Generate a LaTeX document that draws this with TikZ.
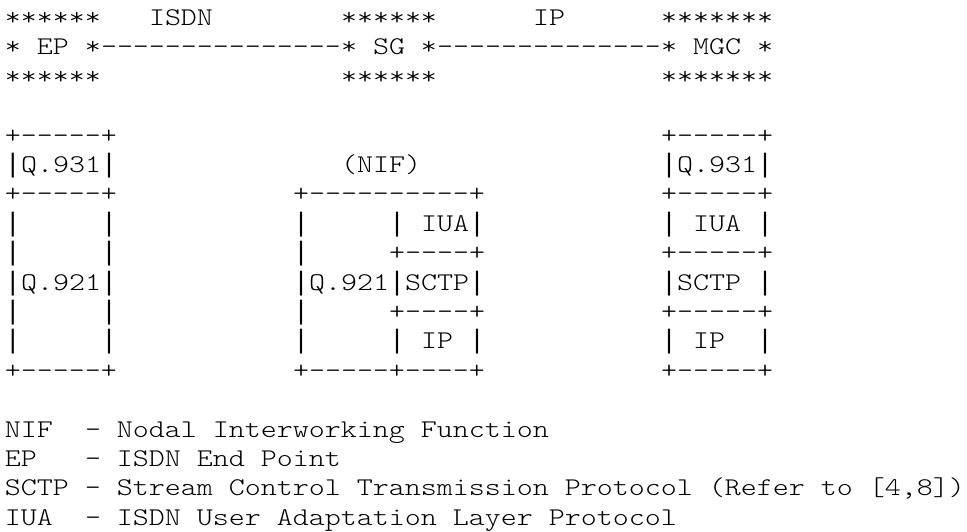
\documentclass[tikz,border=0pt]{standalone}
\usepackage{fontspec}
\newfontfamily\courlike{lmmonolt10-regular.otf}[FakeStretch=1.1951]
\newfontfamily\barfont{Liberation Mono}
\newcommand\vb{{\barfont\fontsize{26.67pt}{29.4pt}\selectfont|}}
\tikzset{
  asc/.style={anchor=base west, inner sep=0pt, outer sep=0pt,
    font=\courlike\fontsize{25.5pt}{29.4pt}\selectfont, text=black}
}
\newcommand\Seg[4]{\node[asc] (#1) at ({5+16*#3},{506.5-29.4*#2}) {#4};}
\begin{document}
\begin{tikzpicture}[x=1pt,y=1pt]
\useasboundingbox (0,0) rectangle (967,532);
\fill[white] (0,0) rectangle (967,532);
% row 0
\Seg{eptop}{0}{0}{******}
\Seg{isdn}{0}{9}{ISDN}
\Seg{sgtop}{0}{21}{******}
\Seg{ip}{0}{33}{IP}
\Seg{mgctop}{0}{41}{*******}
% row 1
\Seg{ep}{1}{0}{* EP *}
\Seg{isdnlink}{1}{6}{---------------}
\Seg{sg}{1}{21}{* SG *}
\Seg{iplink}{1}{27}{--------------}
\Seg{mgc}{1}{41}{* MGC *}
% row 2
\Seg{epbot}{2}{0}{******}
\Seg{sgbot}{2}{21}{******}
\Seg{mgcbot}{2}{41}{*******}
% row 4
\Seg{aA}{4}{0}{+-----+}
\Seg{cA}{4}{41}{+-----+}
% row 5
\Seg{aQ}{5}{0}{\vb Q.931\vb}
\Seg{nif}{5}{21}{(NIF)}
\Seg{cQ}{5}{41}{\vb Q.931\vb}
% row 6
\Seg{aB}{6}{0}{+-----+}
\Seg{bB}{6}{18}{+----------+}
\Seg{cB}{6}{41}{+-----+}
% row 7
\Seg{aC1}{7}{0}{\vb}
\Seg{aC2}{7}{6}{\vb}
\Seg{bC1}{7}{18}{\vb}
\Seg{bIUA}{7}{24}{\vb\ IUA\vb}
\Seg{cIUA}{7}{41}{\vb\ IUA \vb}
% row 8
\Seg{aD1}{8}{0}{\vb}
\Seg{aD2}{8}{6}{\vb}
\Seg{bD1}{8}{18}{\vb}
\Seg{bD2}{8}{24}{+----+}
\Seg{cD}{8}{41}{+-----+}
% row 9
\Seg{aQ921}{9}{0}{\vb Q.921\vb}
\Seg{bQ921}{9}{18}{\vb Q.921\vb SCTP\vb}
\Seg{cSCTP}{9}{41}{\vb SCTP \vb}
% row 10
\Seg{aE1}{10}{0}{\vb}
\Seg{aE2}{10}{6}{\vb}
\Seg{bE1}{10}{18}{\vb}
\Seg{bE2}{10}{24}{+----+}
\Seg{cE}{10}{41}{+-----+}
% row 11
\Seg{aF1}{11}{0}{\vb}
\Seg{aF2}{11}{6}{\vb}
\Seg{bF1}{11}{18}{\vb}
\Seg{bIP}{11}{24}{\vb\ IP \vb}
\Seg{cIP}{11}{41}{\vb\ IP}
\Seg{cF2}{11}{47}{\vb}
% row 12
\Seg{aG}{12}{0}{+-----+}
\Seg{bG}{12}{18}{+-----+----+}
\Seg{cG}{12}{41}{+-----+}
% legend
\Seg{lnifk}{14}{0}{NIF}
\Seg{lnifv}{14}{5}{- Nodal Interworking Function}
\Seg{lepk}{15}{0}{EP}
\Seg{lepv}{15}{5}{- ISDN End Point}
\Seg{lsctp}{16}{0}{SCTP - Stream Control Transmission Protocol (Refer to [4,8])}
\Seg{liuak}{17}{0}{IUA}
\Seg{liuav}{17}{5}{- ISDN User Adaptation Layer Protocol}
\end{tikzpicture}
\end{document}
